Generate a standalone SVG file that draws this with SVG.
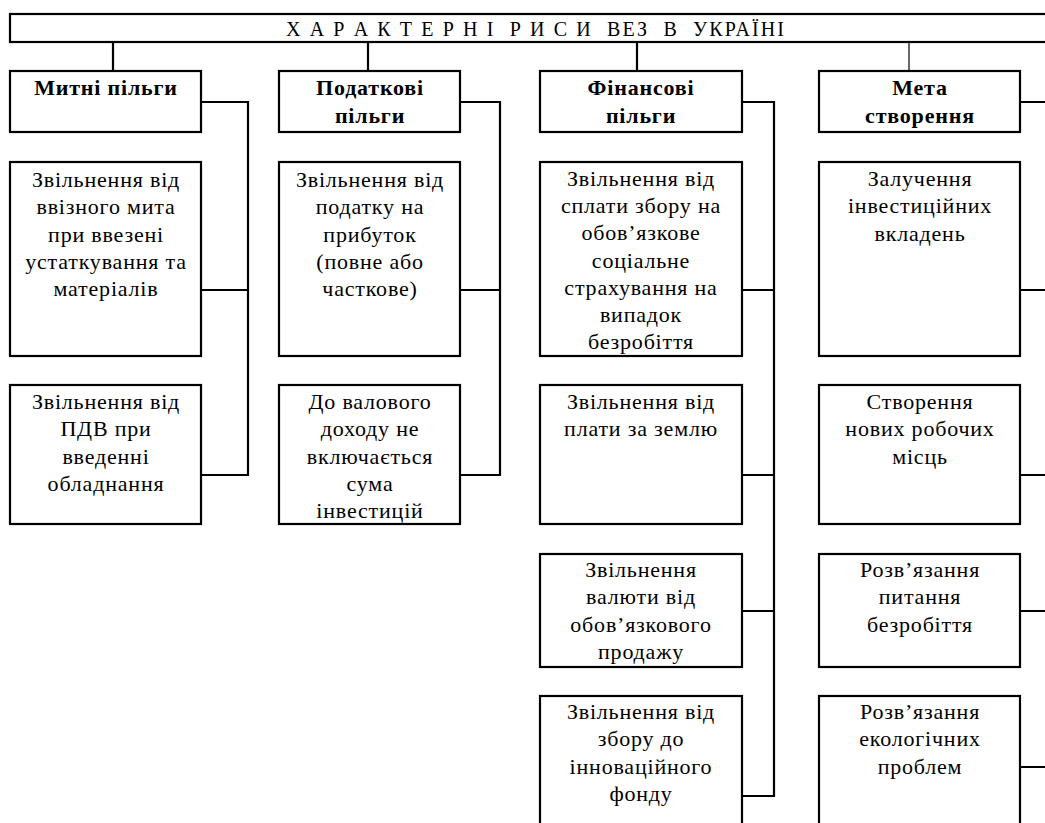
<svg xmlns="http://www.w3.org/2000/svg" width="1045" height="823" viewBox="0 0 1045 823">
<style>
.box{fill:#fff;stroke:#000;stroke-width:2.2}
.ln{fill:none;stroke:#000;stroke-width:2.2}
.thin{fill:none;stroke:#000;stroke-width:1.2}
text{font-family:"Liberation Serif","Times New Roman",serif;fill:#000}
.t{font-size:22px;letter-spacing:0.8px;text-anchor:middle}
.h{font-size:22px;font-weight:bold;letter-spacing:0.8px;text-anchor:middle}
.ttl{font-size:20px}
</style>
<rect width="1045" height="823" fill="#fff"/>
<g id="connectors">
<path class="ln" d="M113,42V71M368,42V71M637,42V71"/>
<path class="thin" d="M909,42V71"/>
<path class="ln" d="M201,102H248V475H201M248,290H201"/>
<path class="ln" d="M460,102H500V475H460M500,290H460"/>
<path class="ln" d="M742,102H774V796H742M774,290H742M774,475H742M774,611H742"/>
<path class="ln" d="M1020,102H1047M1020,290H1047M1020,475H1047M1020,611H1047M1020,767H1047"/>
</g>
<g id="title">
<rect class="box" x="10" y="14" width="1045" height="28"/>
<text class="ttl" x="286" y="35.5" xml:space="preserve" textLength="498" lengthAdjust="spacing">Х А Р А К Т Е Р Н І  Р И С И  ВЕЗ  В  УКРАЇНІ</text>
</g>
<g id="h1"><rect class="box" x="10" y="71" width="191" height="61"/><text class="h" x="106" y="95">Митні пільги</text></g>
<g id="h2"><rect class="box" x="279" y="71" width="181" height="61"/><text class="h" x="370" y="95">Податкові<tspan x="370" y="123">пільги</tspan></text></g>
<g id="h3"><rect class="box" x="540" y="71" width="202" height="61"/><text class="h" x="641" y="95">Фінансові<tspan x="641" y="123">пільги</tspan></text></g>
<g id="h4"><rect class="box" x="819" y="71" width="201" height="61"/><text class="h" x="920" y="95">Мета<tspan x="920" y="123">створення</tspan></text></g>

<g id="c1b1"><rect class="box" x="10" y="162" width="191" height="194"/><text class="t" x="106" y="187">Звільнення від<tspan x="106" y="214.3">ввізного мита</tspan><tspan x="106" y="241.6">при ввезені</tspan><tspan x="106" y="268.9">устаткування та</tspan><tspan x="106" y="296.2">матеріалів</tspan></text></g>
<g id="c1b2"><rect class="box" x="10" y="385" width="191" height="139"/><text class="t" x="106" y="409">Звільнення від<tspan x="106" y="436.3">ПДВ при</tspan><tspan x="106" y="463.6">введенні</tspan><tspan x="106" y="490.9">обладнання</tspan></text></g>

<g id="c2b1"><rect class="box" x="279" y="162" width="181" height="194"/><text class="t" x="370" y="187">Звільнення від<tspan x="370" y="214.3">податку на</tspan><tspan x="370" y="241.6">прибуток</tspan><tspan x="370" y="268.9">(повне або</tspan><tspan x="370" y="296.2">часткове)</tspan></text></g>
<g id="c2b2"><rect class="box" x="279" y="385" width="181" height="139"/><text class="t" x="370" y="409">До валового<tspan x="370" y="436.3">доходу не</tspan><tspan x="370" y="463.6">включається</tspan><tspan x="370" y="490.9">сума</tspan><tspan x="370" y="518.2">інвестицій</tspan></text></g>

<g id="c3b1"><rect class="box" x="540" y="162" width="202" height="194"/><text class="t" x="641" y="186">Звільнення від<tspan x="641" y="213.2">сплати збору на</tspan><tspan x="641" y="240.4">обов’язкове</tspan><tspan x="641" y="267.6">соціальне</tspan><tspan x="641" y="294.8">страхування на</tspan><tspan x="641" y="322">випадок</tspan><tspan x="641" y="349.2">безробіття</tspan></text></g>
<g id="c3b2"><rect class="box" x="540" y="385" width="202" height="139"/><text class="t" x="641" y="409">Звільнення від<tspan x="641" y="436.3">плати за землю</tspan></text></g>
<g id="c3b3"><rect class="box" x="540" y="554" width="202" height="113"/><text class="t" x="641" y="577">Звільнення<tspan x="641" y="604.3">валюти від</tspan><tspan x="641" y="631.6">обов’язкового</tspan><tspan x="641" y="658.9">продажу</tspan></text></g>
<g id="c3b4"><rect class="box" x="540" y="696" width="202" height="140"/><text class="t" x="641" y="719">Звільнення від<tspan x="641" y="746.3">збору до</tspan><tspan x="641" y="773.6">інноваційного</tspan><tspan x="641" y="800.9">фонду</tspan></text></g>

<g id="c4b1"><rect class="box" x="819" y="162" width="201" height="194"/><text class="t" x="920" y="186">Залучення<tspan x="920" y="213.3">інвестиційних</tspan><tspan x="920" y="240.6">вкладень</tspan></text></g>
<g id="c4b2"><rect class="box" x="819" y="385" width="201" height="139"/><text class="t" x="920" y="409">Створення<tspan x="920" y="436.3">нових робочих</tspan><tspan x="920" y="463.6">місць</tspan></text></g>
<g id="c4b3"><rect class="box" x="819" y="554" width="201" height="113"/><text class="t" x="920" y="577">Розв’язання<tspan x="920" y="604.3">питання</tspan><tspan x="920" y="631.6">безробіття</tspan></text></g>
<g id="c4b4"><rect class="box" x="819" y="696" width="201" height="140"/><text class="t" x="920" y="719">Розв’язання<tspan x="920" y="746.3">екологічних</tspan><tspan x="920" y="773.6">проблем</tspan></text></g>
</svg>
